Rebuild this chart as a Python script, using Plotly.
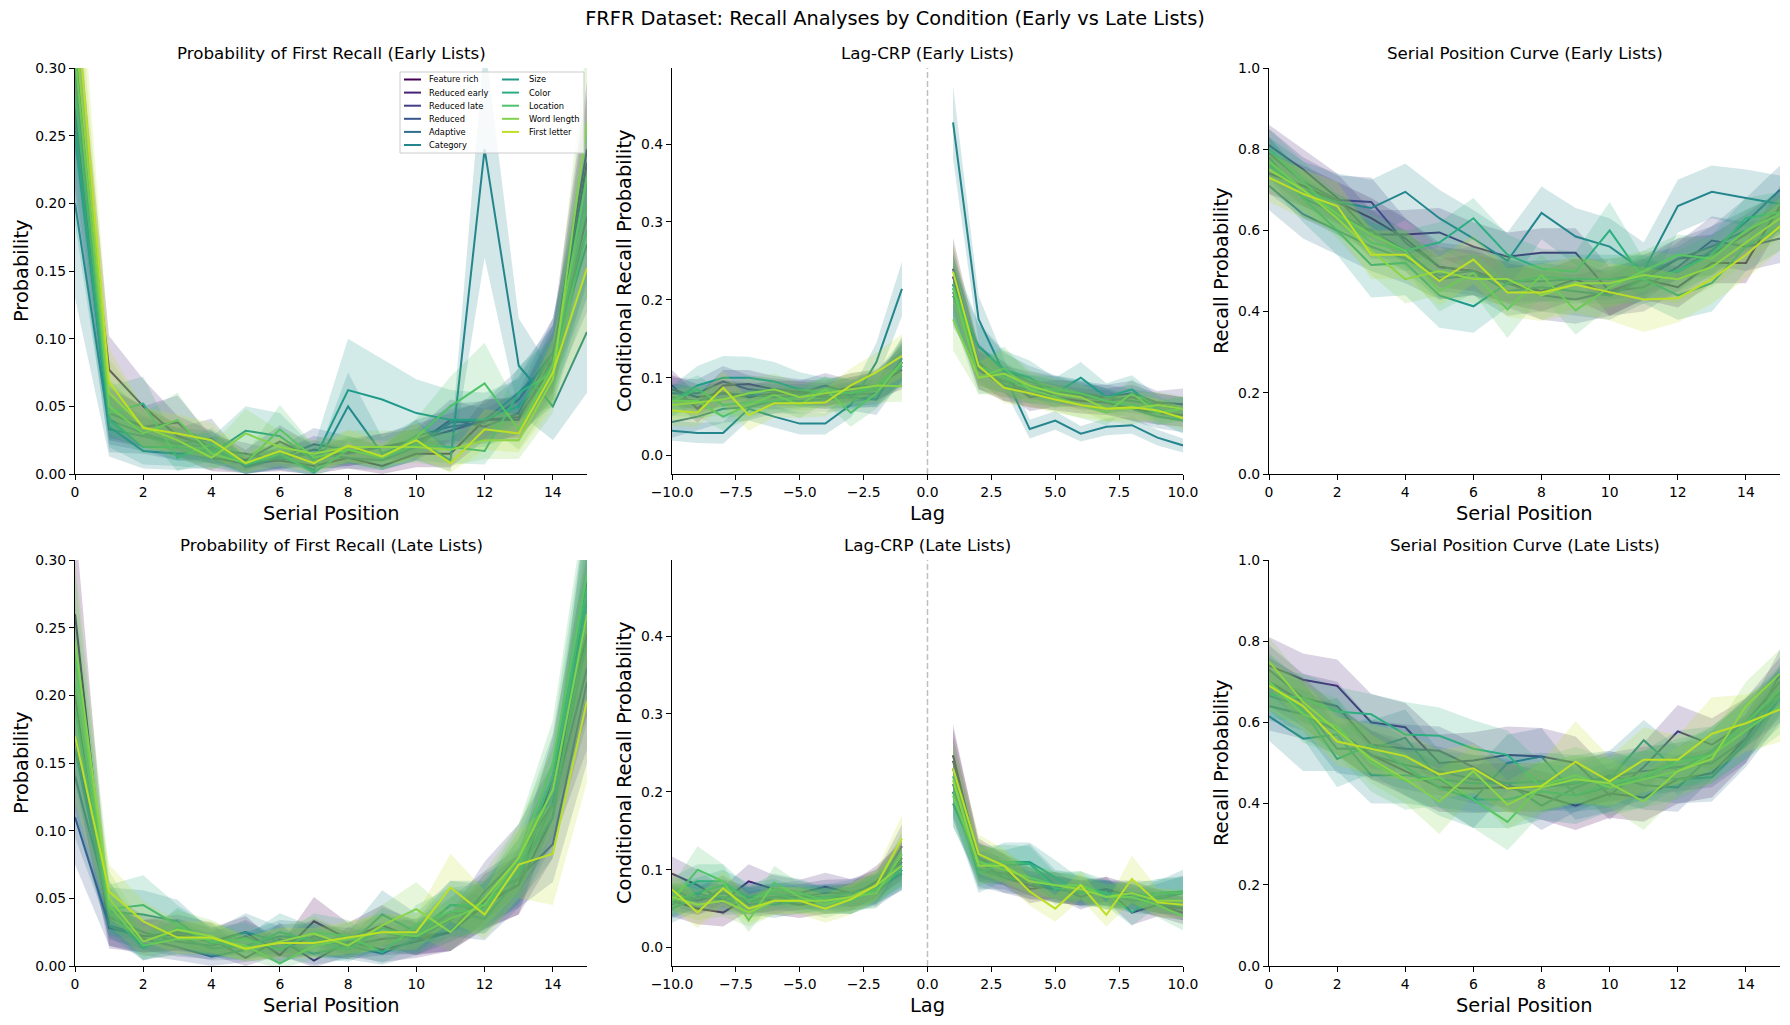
import plotly.graph_objects as go

W, H = 1790, 1025
FONT = "DejaVu Sans"

conditions = ["Feature rich", "Reduced early", "Reduced late", "Reduced", "Adaptive",
              "Category", "Size", "Color", "Location", "Word length", "First letter"]
colors = ["#440154", "#482173", "#433e85", "#39568c", "#2e6e8e", "#25858e",
          "#1f9a8a", "#2cae80", "#4ec36b", "#81d34d", "#bddf26"]

serial_positions = list(range(16))
lags = [-10, -9, -8, -7, -6, -5, -4, -3, -2, -1, 1, 2, 3, 4, 5, 6, 7, 8, 9, 10]

# ---------------- Probability of First Recall (Early Lists) ----------------
pfr_early = {
    "Feature rich":  [0.27, 0.045, 0.035, 0.025, 0.012, 0.008, 0.010, 0.006, 0.012, 0.006, 0.015, 0.015, 0.040, 0.042, 0.080, 0.230],
    "Reduced early": [0.30, 0.077, 0.050, 0.028, 0.020, 0.010, 0.024, 0.012, 0.016, 0.020, 0.025, 0.032, 0.040, 0.040, 0.085, 0.240],
    "Reduced late":  [0.32, 0.045, 0.035, 0.038, 0.018, 0.015, 0.010, 0.018, 0.015, 0.020, 0.022, 0.040, 0.035, 0.045, 0.090, 0.190],
    "Reduced":       [0.30, 0.040, 0.030, 0.022, 0.026, 0.005, 0.012, 0.022, 0.018, 0.012, 0.028, 0.035, 0.038, 0.055, 0.090, 0.180],
    "Adaptive":      [0.26, 0.033, 0.028, 0.022, 0.020, 0.006, 0.012, 0.015, 0.012, 0.010, 0.020, 0.038, 0.040, 0.060, 0.085, 0.170],
    "Category":      [0.20, 0.035, 0.017, 0.015, 0.018, 0.007, 0.013, 0.003, 0.050, 0.015, 0.025, 0.010, 0.240, 0.080, 0.050, 0.105],
    "Size":          [0.25, 0.040, 0.020, 0.020, 0.015, 0.032, 0.028, 0.010, 0.062, 0.055, 0.045, 0.040, 0.040, 0.050, 0.080, 0.200],
    "Color":         [0.28, 0.045, 0.052, 0.012, 0.022, 0.007, 0.015, 0.001, 0.018, 0.012, 0.022, 0.020, 0.017, 0.060, 0.075, 0.180],
    "Location":      [0.31, 0.050, 0.030, 0.040, 0.015, 0.008, 0.033, 0.012, 0.018, 0.012, 0.027, 0.050, 0.067, 0.033, 0.080, 0.220],
    "Word length":   [0.33, 0.060, 0.035, 0.025, 0.012, 0.030, 0.020, 0.015, 0.020, 0.020, 0.020, 0.018, 0.025, 0.025, 0.070, 0.260],
    "First letter":  [0.36, 0.068, 0.034, 0.030, 0.025, 0.008, 0.017, 0.008, 0.021, 0.013, 0.025, 0.008, 0.033, 0.030, 0.075, 0.152],
}
pfr_early_ci = {
    "Feature rich":  [0.060, 0.020, 0.015, 0.012, 0.010, 0.007, 0.008, 0.006, 0.008, 0.006, 0.010, 0.010, 0.015, 0.015, 0.025, 0.050],
    "Reduced early": [0.060, 0.025, 0.020, 0.015, 0.012, 0.008, 0.012, 0.009, 0.010, 0.010, 0.012, 0.013, 0.015, 0.016, 0.025, 0.050],
    "Reduced late":  [0.060, 0.018, 0.015, 0.020, 0.010, 0.008, 0.007, 0.010, 0.009, 0.010, 0.011, 0.015, 0.013, 0.016, 0.025, 0.050],
    "Reduced":       [0.060, 0.018, 0.013, 0.012, 0.015, 0.005, 0.008, 0.012, 0.010, 0.008, 0.012, 0.013, 0.014, 0.017, 0.025, 0.050],
    "Adaptive":      [0.060, 0.017, 0.013, 0.012, 0.012, 0.006, 0.008, 0.010, 0.008, 0.007, 0.010, 0.014, 0.014, 0.018, 0.025, 0.050],
    "Category":      [0.070, 0.022, 0.013, 0.012, 0.013, 0.007, 0.010, 0.004, 0.025, 0.012, 0.015, 0.008, 0.080, 0.035, 0.025, 0.045],
    "Size":          [0.065, 0.020, 0.013, 0.014, 0.012, 0.018, 0.017, 0.010, 0.038, 0.030, 0.025, 0.022, 0.020, 0.020, 0.030, 0.055],
    "Color":         [0.060, 0.020, 0.020, 0.010, 0.012, 0.007, 0.010, 0.003, 0.010, 0.009, 0.012, 0.012, 0.010, 0.020, 0.025, 0.050],
    "Location":      [0.060, 0.020, 0.015, 0.020, 0.010, 0.007, 0.018, 0.009, 0.010, 0.009, 0.014, 0.022, 0.030, 0.015, 0.025, 0.050],
    "Word length":   [0.070, 0.025, 0.015, 0.013, 0.009, 0.018, 0.012, 0.010, 0.012, 0.012, 0.012, 0.012, 0.014, 0.014, 0.025, 0.060],
    "First letter":  [0.070, 0.025, 0.015, 0.014, 0.013, 0.007, 0.011, 0.007, 0.012, 0.009, 0.013, 0.007, 0.015, 0.014, 0.025, 0.050],
}

# ---------------- Lag-CRP (Early Lists) ----------------
crp_early = {
    "Feature rich":  [0.085, 0.075, 0.080, 0.075, 0.080, 0.080, 0.078, 0.085, 0.090, 0.110, 0.230, 0.110, 0.090, 0.080, 0.075, 0.070, 0.068, 0.060, 0.055, 0.052],
    "Reduced early": [0.090, 0.060, 0.090, 0.092, 0.085, 0.082, 0.080, 0.088, 0.090, 0.115, 0.240, 0.115, 0.100, 0.075, 0.080, 0.078, 0.070, 0.075, 0.065, 0.060],
    "Reduced late":  [0.080, 0.080, 0.095, 0.085, 0.082, 0.080, 0.090, 0.080, 0.085, 0.120, 0.220, 0.110, 0.095, 0.090, 0.085, 0.075, 0.075, 0.080, 0.068, 0.066],
    "Reduced":       [0.075, 0.070, 0.080, 0.078, 0.075, 0.077, 0.075, 0.078, 0.080, 0.120, 0.210, 0.120, 0.090, 0.085, 0.080, 0.080, 0.075, 0.070, 0.065, 0.060],
    "Adaptive":      [0.043, 0.050, 0.060, 0.062, 0.070, 0.070, 0.072, 0.075, 0.072, 0.125, 0.205, 0.140, 0.110, 0.095, 0.085, 0.080, 0.070, 0.060, 0.050, 0.045],
    "Category":      [0.032, 0.029, 0.029, 0.060, 0.050, 0.041, 0.041, 0.065, 0.120, 0.214, 0.428, 0.175, 0.105, 0.034, 0.045, 0.028, 0.037, 0.039, 0.023, 0.013],
    "Size":          [0.070, 0.090, 0.100, 0.100, 0.095, 0.085, 0.080, 0.080, 0.085, 0.120, 0.215, 0.140, 0.110, 0.100, 0.080, 0.100, 0.075, 0.085, 0.060, 0.045],
    "Color":         [0.070, 0.085, 0.065, 0.068, 0.070, 0.075, 0.085, 0.080, 0.090, 0.115, 0.220, 0.115, 0.100, 0.085, 0.085, 0.080, 0.070, 0.065, 0.055, 0.060],
    "Location":      [0.070, 0.070, 0.050, 0.065, 0.078, 0.065, 0.085, 0.055, 0.080, 0.120, 0.215, 0.100, 0.112, 0.085, 0.075, 0.065, 0.055, 0.080, 0.055, 0.060],
    "Word length":   [0.065, 0.068, 0.072, 0.080, 0.085, 0.075, 0.080, 0.085, 0.090, 0.089, 0.175, 0.100, 0.105, 0.090, 0.080, 0.075, 0.060, 0.060, 0.065, 0.060],
    "First letter":  [0.058, 0.055, 0.087, 0.052, 0.067, 0.067, 0.068, 0.090, 0.107, 0.128, 0.236, 0.115, 0.087, 0.080, 0.072, 0.065, 0.060, 0.062, 0.058, 0.048],
}
crp_early_ci = {
    "Feature rich":  [0.018, 0.017, 0.017, 0.016, 0.016, 0.015, 0.015, 0.016, 0.018, 0.025, 0.040, 0.025, 0.020, 0.018, 0.017, 0.016, 0.016, 0.015, 0.015, 0.015],
    "Reduced early": [0.020, 0.018, 0.020, 0.018, 0.017, 0.016, 0.016, 0.018, 0.020, 0.025, 0.040, 0.025, 0.020, 0.018, 0.017, 0.016, 0.016, 0.016, 0.015, 0.015],
    "Reduced late":  [0.020, 0.018, 0.020, 0.018, 0.017, 0.016, 0.016, 0.017, 0.019, 0.025, 0.040, 0.025, 0.020, 0.018, 0.017, 0.016, 0.016, 0.016, 0.015, 0.020],
    "Reduced":       [0.018, 0.017, 0.017, 0.016, 0.016, 0.015, 0.015, 0.016, 0.018, 0.025, 0.040, 0.025, 0.020, 0.018, 0.017, 0.016, 0.016, 0.015, 0.015, 0.015],
    "Adaptive":      [0.020, 0.018, 0.018, 0.017, 0.016, 0.016, 0.016, 0.017, 0.020, 0.028, 0.040, 0.028, 0.022, 0.020, 0.018, 0.017, 0.016, 0.016, 0.015, 0.015],
    "Category":      [0.013, 0.013, 0.014, 0.015, 0.014, 0.014, 0.014, 0.016, 0.025, 0.035, 0.047, 0.030, 0.020, 0.012, 0.012, 0.010, 0.011, 0.011, 0.010, 0.009],
    "Size":          [0.020, 0.025, 0.028, 0.027, 0.025, 0.022, 0.020, 0.020, 0.022, 0.030, 0.040, 0.030, 0.025, 0.022, 0.020, 0.020, 0.018, 0.018, 0.017, 0.017],
    "Color":         [0.018, 0.018, 0.017, 0.016, 0.016, 0.015, 0.016, 0.017, 0.018, 0.025, 0.040, 0.025, 0.020, 0.018, 0.017, 0.016, 0.016, 0.015, 0.015, 0.015],
    "Location":      [0.020, 0.020, 0.018, 0.018, 0.018, 0.017, 0.018, 0.018, 0.020, 0.028, 0.040, 0.022, 0.028, 0.020, 0.018, 0.017, 0.016, 0.018, 0.016, 0.016],
    "Word length":   [0.020, 0.020, 0.020, 0.020, 0.020, 0.018, 0.018, 0.020, 0.022, 0.020, 0.040, 0.020, 0.030, 0.020, 0.018, 0.017, 0.016, 0.020, 0.017, 0.016],
    "First letter":  [0.020, 0.018, 0.022, 0.020, 0.018, 0.018, 0.018, 0.022, 0.025, 0.028, 0.040, 0.025, 0.020, 0.018, 0.017, 0.016, 0.016, 0.016, 0.015, 0.015],
}

# ---------------- Serial Position Curve (Early Lists) ----------------
spc_early = {
    "Feature rich":  [0.74, 0.71, 0.67, 0.63, 0.58, 0.51, 0.50, 0.47, 0.45, 0.48, 0.44, 0.48, 0.46, 0.52, 0.52, 0.66],
    "Reduced early": [0.81, 0.75, 0.68, 0.59, 0.59, 0.595, 0.56, 0.535, 0.545, 0.545, 0.45, 0.48, 0.53, 0.54, 0.59, 0.65],
    "Reduced late":  [0.79, 0.72, 0.675, 0.67, 0.57, 0.51, 0.50, 0.47, 0.44, 0.43, 0.45, 0.46, 0.51, 0.575, 0.56, 0.58],
    "Reduced":       [0.78, 0.68, 0.64, 0.60, 0.55, 0.48, 0.49, 0.475, 0.475, 0.48, 0.48, 0.49, 0.53, 0.56, 0.60, 0.64],
    "Adaptive":      [0.71, 0.64, 0.60, 0.56, 0.53, 0.49, 0.50, 0.45, 0.46, 0.45, 0.44, 0.48, 0.50, 0.55, 0.62, 0.70],
    "Category":      [0.76, 0.70, 0.67, 0.655, 0.695, 0.63, 0.58, 0.525, 0.643, 0.585, 0.56, 0.50, 0.66, 0.695, 0.68, 0.665],
    "Size":          [0.77, 0.68, 0.60, 0.515, 0.52, 0.44, 0.413, 0.47, 0.485, 0.48, 0.48, 0.48, 0.44, 0.47, 0.56, 0.61],
    "Color":         [0.80, 0.72, 0.64, 0.57, 0.55, 0.57, 0.63, 0.54, 0.505, 0.498, 0.60, 0.48, 0.50, 0.54, 0.63, 0.645],
    "Location":      [0.77, 0.70, 0.64, 0.59, 0.55, 0.45, 0.495, 0.405, 0.49, 0.403, 0.46, 0.50, 0.54, 0.53, 0.60, 0.64],
    "Word length":   [0.75, 0.70, 0.63, 0.55, 0.48, 0.50, 0.48, 0.48, 0.44, 0.47, 0.47, 0.49, 0.48, 0.51, 0.57, 0.63],
    "First letter":  [0.73, 0.69, 0.66, 0.54, 0.54, 0.475, 0.528, 0.447, 0.447, 0.466, 0.448, 0.43, 0.433, 0.48, 0.54, 0.61],
}
spc_early_ci = {
    "Feature rich":  [0.05, 0.05, 0.05, 0.05, 0.05, 0.05, 0.05, 0.05, 0.05, 0.05, 0.05, 0.05, 0.05, 0.05, 0.05, 0.05],
    "Reduced early": [0.05, 0.05, 0.06, 0.06, 0.06, 0.06, 0.06, 0.06, 0.06, 0.06, 0.06, 0.05, 0.05, 0.05, 0.05, 0.05],
    "Reduced late":  [0.06, 0.06, 0.06, 0.06, 0.06, 0.06, 0.06, 0.06, 0.06, 0.06, 0.06, 0.06, 0.06, 0.06, 0.06, 0.06],
    "Reduced":       [0.05, 0.05, 0.05, 0.05, 0.05, 0.05, 0.05, 0.05, 0.05, 0.05, 0.05, 0.05, 0.05, 0.05, 0.05, 0.05],
    "Adaptive":      [0.06, 0.06, 0.06, 0.06, 0.06, 0.06, 0.06, 0.06, 0.06, 0.06, 0.06, 0.06, 0.06, 0.06, 0.06, 0.06],
    "Category":      [0.07, 0.07, 0.07, 0.07, 0.07, 0.07, 0.07, 0.07, 0.065, 0.07, 0.07, 0.07, 0.065, 0.065, 0.07, 0.07],
    "Size":          [0.06, 0.06, 0.06, 0.08, 0.08, 0.08, 0.065, 0.06, 0.06, 0.06, 0.06, 0.06, 0.06, 0.07, 0.06, 0.06],
    "Color":         [0.05, 0.05, 0.05, 0.05, 0.05, 0.05, 0.05, 0.05, 0.05, 0.05, 0.07, 0.05, 0.05, 0.05, 0.05, 0.05],
    "Location":      [0.05, 0.05, 0.05, 0.05, 0.05, 0.05, 0.05, 0.07, 0.05, 0.06, 0.05, 0.05, 0.05, 0.05, 0.05, 0.05],
    "Word length":   [0.05, 0.05, 0.05, 0.06, 0.06, 0.06, 0.06, 0.06, 0.06, 0.06, 0.06, 0.06, 0.06, 0.05, 0.05, 0.05],
    "First letter":  [0.06, 0.06, 0.06, 0.06, 0.06, 0.06, 0.06, 0.06, 0.07, 0.07, 0.07, 0.08, 0.06, 0.06, 0.06, 0.06],
}

# ---------------- Probability of First Recall (Late Lists) ----------------
pfr_late = {
    "Feature rich":  [0.26, 0.030, 0.022, 0.023, 0.018, 0.025, 0.008, 0.033, 0.020, 0.030, 0.020, 0.025, 0.045, 0.060, 0.140, 0.245],
    "Reduced early": [0.20, 0.028, 0.022, 0.025, 0.020, 0.006, 0.020, 0.004, 0.018, 0.012, 0.018, 0.025, 0.048, 0.060, 0.110, 0.283],
    "Reduced late":  [0.17, 0.036, 0.025, 0.018, 0.015, 0.022, 0.012, 0.022, 0.015, 0.020, 0.022, 0.025, 0.055, 0.080, 0.120, 0.220],
    "Reduced":       [0.11, 0.030, 0.020, 0.014, 0.007, 0.012, 0.019, 0.019, 0.017, 0.025, 0.020, 0.034, 0.050, 0.065, 0.090, 0.210],
    "Adaptive":      [0.14, 0.045, 0.014, 0.022, 0.013, 0.015, 0.022, 0.020, 0.015, 0.009, 0.020, 0.040, 0.035, 0.065, 0.120, 0.240],
    "Category":      [0.16, 0.040, 0.038, 0.033, 0.016, 0.025, 0.018, 0.009, 0.015, 0.038, 0.025, 0.045, 0.042, 0.070, 0.110, 0.260],
    "Size":          [0.19, 0.040, 0.013, 0.028, 0.018, 0.013, 0.025, 0.018, 0.012, 0.028, 0.022, 0.045, 0.045, 0.070, 0.130, 0.270],
    "Color":         [0.21, 0.042, 0.045, 0.030, 0.018, 0.020, 0.012, 0.025, 0.022, 0.010, 0.030, 0.040, 0.042, 0.075, 0.140, 0.280],
    "Location":      [0.23, 0.045, 0.015, 0.020, 0.020, 0.015, 0.002, 0.015, 0.020, 0.025, 0.022, 0.035, 0.045, 0.080, 0.150, 0.290],
    "Word length":   [0.24, 0.050, 0.018, 0.027, 0.022, 0.012, 0.018, 0.024, 0.015, 0.030, 0.042, 0.025, 0.050, 0.080, 0.130, 0.260],
    "First letter":  [0.17, 0.055, 0.033, 0.021, 0.021, 0.013, 0.017, 0.017, 0.021, 0.025, 0.025, 0.058, 0.038, 0.075, 0.083, 0.196],
}
pfr_late_ci = {
    "Feature rich":  [0.070, 0.015, 0.012, 0.012, 0.010, 0.012, 0.007, 0.018, 0.012, 0.015, 0.012, 0.014, 0.018, 0.022, 0.030, 0.060],
    "Reduced early": [0.060, 0.015, 0.012, 0.013, 0.012, 0.006, 0.012, 0.005, 0.011, 0.009, 0.012, 0.014, 0.020, 0.022, 0.030, 0.060],
    "Reduced late":  [0.055, 0.016, 0.013, 0.011, 0.010, 0.012, 0.009, 0.013, 0.010, 0.012, 0.013, 0.014, 0.022, 0.025, 0.030, 0.060],
    "Reduced":       [0.035, 0.015, 0.012, 0.010, 0.007, 0.009, 0.012, 0.012, 0.011, 0.014, 0.012, 0.016, 0.020, 0.022, 0.028, 0.060],
    "Adaptive":      [0.045, 0.018, 0.010, 0.013, 0.009, 0.010, 0.012, 0.012, 0.010, 0.008, 0.012, 0.018, 0.016, 0.022, 0.030, 0.060],
    "Category":      [0.050, 0.018, 0.018, 0.016, 0.010, 0.014, 0.011, 0.008, 0.010, 0.018, 0.014, 0.018, 0.018, 0.024, 0.030, 0.060],
    "Size":          [0.055, 0.018, 0.009, 0.015, 0.011, 0.009, 0.014, 0.011, 0.009, 0.015, 0.012, 0.018, 0.018, 0.024, 0.032, 0.060],
    "Color":         [0.060, 0.018, 0.022, 0.015, 0.011, 0.012, 0.009, 0.014, 0.012, 0.008, 0.015, 0.018, 0.018, 0.025, 0.032, 0.060],
    "Location":      [0.060, 0.018, 0.010, 0.012, 0.012, 0.010, 0.004, 0.010, 0.012, 0.014, 0.013, 0.016, 0.018, 0.025, 0.032, 0.060],
    "Word length":   [0.060, 0.020, 0.011, 0.014, 0.012, 0.009, 0.011, 0.013, 0.010, 0.015, 0.020, 0.014, 0.020, 0.025, 0.032, 0.060],
    "First letter":  [0.050, 0.020, 0.015, 0.012, 0.012, 0.009, 0.011, 0.011, 0.012, 0.013, 0.013, 0.025, 0.018, 0.025, 0.038, 0.060],
}

# ---------------- Lag-CRP (Late Lists) ----------------
crp_late = {
    "Feature rich":  [0.060, 0.050, 0.045, 0.065, 0.060, 0.055, 0.060, 0.065, 0.085, 0.110, 0.247, 0.110, 0.100, 0.085, 0.075, 0.070, 0.075, 0.065, 0.055, 0.050],
    "Reduced early": [0.095, 0.080, 0.060, 0.085, 0.075, 0.070, 0.078, 0.070, 0.080, 0.115, 0.240, 0.115, 0.100, 0.075, 0.080, 0.065, 0.075, 0.045, 0.055, 0.045],
    "Reduced late":  [0.075, 0.060, 0.070, 0.060, 0.065, 0.065, 0.070, 0.070, 0.075, 0.130, 0.230, 0.110, 0.090, 0.080, 0.075, 0.070, 0.070, 0.065, 0.060, 0.050],
    "Reduced":       [0.065, 0.060, 0.075, 0.055, 0.060, 0.065, 0.065, 0.065, 0.070, 0.100, 0.210, 0.100, 0.095, 0.080, 0.080, 0.075, 0.070, 0.070, 0.060, 0.055],
    "Adaptive":      [0.055, 0.070, 0.060, 0.060, 0.065, 0.070, 0.060, 0.060, 0.075, 0.095, 0.200, 0.100, 0.090, 0.085, 0.075, 0.070, 0.070, 0.060, 0.062, 0.070],
    "Category":      [0.050, 0.065, 0.065, 0.060, 0.055, 0.060, 0.065, 0.070, 0.075, 0.100, 0.185, 0.110, 0.105, 0.108, 0.080, 0.075, 0.065, 0.070, 0.065, 0.070],
    "Size":          [0.060, 0.070, 0.080, 0.065, 0.070, 0.060, 0.065, 0.060, 0.080, 0.105, 0.200, 0.095, 0.110, 0.110, 0.090, 0.070, 0.070, 0.065, 0.070, 0.072],
    "Color":         [0.070, 0.085, 0.085, 0.060, 0.075, 0.070, 0.060, 0.060, 0.075, 0.100, 0.220, 0.105, 0.110, 0.108, 0.075, 0.080, 0.070, 0.045, 0.070, 0.070],
    "Location":      [0.060, 0.100, 0.085, 0.035, 0.083, 0.065, 0.055, 0.065, 0.070, 0.120, 0.195, 0.110, 0.100, 0.090, 0.080, 0.080, 0.065, 0.065, 0.055, 0.040],
    "Word length":   [0.065, 0.055, 0.060, 0.045, 0.060, 0.060, 0.060, 0.065, 0.080, 0.105, 0.215, 0.105, 0.105, 0.085, 0.080, 0.075, 0.065, 0.070, 0.060, 0.060],
    "First letter":  [0.075, 0.045, 0.076, 0.050, 0.060, 0.060, 0.050, 0.062, 0.080, 0.140, 0.230, 0.120, 0.105, 0.072, 0.050, 0.080, 0.042, 0.088, 0.058, 0.055],
}
crp_late_ci = {
    "Feature rich":  [0.020, 0.020, 0.018, 0.018, 0.018, 0.017, 0.017, 0.018, 0.020, 0.025, 0.040, 0.025, 0.020, 0.018, 0.017, 0.016, 0.016, 0.016, 0.015, 0.015],
    "Reduced early": [0.022, 0.020, 0.018, 0.022, 0.018, 0.017, 0.018, 0.018, 0.020, 0.025, 0.040, 0.025, 0.020, 0.018, 0.017, 0.016, 0.016, 0.016, 0.015, 0.015],
    "Reduced late":  [0.020, 0.018, 0.018, 0.018, 0.018, 0.017, 0.017, 0.018, 0.020, 0.028, 0.040, 0.025, 0.020, 0.018, 0.017, 0.016, 0.016, 0.016, 0.015, 0.015],
    "Reduced":       [0.018, 0.018, 0.018, 0.017, 0.017, 0.016, 0.016, 0.017, 0.018, 0.025, 0.040, 0.025, 0.020, 0.018, 0.017, 0.016, 0.016, 0.016, 0.015, 0.015],
    "Adaptive":      [0.018, 0.018, 0.018, 0.017, 0.017, 0.016, 0.016, 0.017, 0.018, 0.022, 0.035, 0.022, 0.020, 0.018, 0.017, 0.016, 0.016, 0.016, 0.020, 0.022],
    "Category":      [0.018, 0.018, 0.018, 0.017, 0.017, 0.016, 0.016, 0.017, 0.018, 0.022, 0.030, 0.022, 0.020, 0.025, 0.020, 0.018, 0.016, 0.016, 0.020, 0.030],
    "Size":          [0.020, 0.020, 0.020, 0.018, 0.018, 0.017, 0.017, 0.017, 0.020, 0.025, 0.035, 0.025, 0.025, 0.025, 0.022, 0.018, 0.017, 0.017, 0.018, 0.020],
    "Color":         [0.020, 0.022, 0.022, 0.018, 0.020, 0.018, 0.017, 0.017, 0.020, 0.025, 0.040, 0.025, 0.022, 0.022, 0.020, 0.018, 0.017, 0.017, 0.018, 0.020],
    "Location":      [0.020, 0.030, 0.022, 0.015, 0.022, 0.018, 0.017, 0.017, 0.020, 0.028, 0.040, 0.025, 0.020, 0.018, 0.018, 0.018, 0.016, 0.016, 0.016, 0.018],
    "Word length":   [0.020, 0.020, 0.020, 0.018, 0.018, 0.017, 0.017, 0.018, 0.020, 0.025, 0.040, 0.025, 0.020, 0.018, 0.017, 0.016, 0.016, 0.016, 0.015, 0.015],
    "First letter":  [0.025, 0.020, 0.022, 0.018, 0.018, 0.017, 0.018, 0.020, 0.020, 0.030, 0.040, 0.025, 0.022, 0.018, 0.017, 0.018, 0.015, 0.030, 0.018, 0.018],
}

# ---------------- Serial Position Curve (Late Lists) ----------------
spc_late = {
    "Feature rich":  [0.70, 0.65, 0.58, 0.52, 0.48, 0.44, 0.437, 0.44, 0.42, 0.395, 0.425, 0.415, 0.46, 0.475, 0.56, 0.68],
    "Reduced early": [0.74, 0.705, 0.69, 0.60, 0.588, 0.50, 0.506, 0.52, 0.516, 0.50, 0.42, 0.49, 0.578, 0.545, 0.60, 0.70],
    "Reduced late":  [0.73, 0.66, 0.64, 0.545, 0.535, 0.53, 0.49, 0.44, 0.44, 0.45, 0.465, 0.48, 0.49, 0.50, 0.56, 0.72],
    "Reduced":       [0.64, 0.62, 0.58, 0.52, 0.495, 0.48, 0.46, 0.45, 0.395, 0.44, 0.47, 0.445, 0.44, 0.52, 0.60, 0.66],
    "Adaptive":      [0.665, 0.64, 0.535, 0.535, 0.562, 0.46, 0.41, 0.50, 0.516, 0.42, 0.44, 0.47, 0.46, 0.465, 0.55, 0.66],
    "Category":      [0.615, 0.56, 0.57, 0.47, 0.47, 0.46, 0.45, 0.45, 0.455, 0.45, 0.46, 0.556, 0.48, 0.53, 0.60, 0.67],
    "Size":          [0.70, 0.63, 0.51, 0.545, 0.49, 0.44, 0.41, 0.41, 0.43, 0.42, 0.45, 0.46, 0.51, 0.52, 0.58, 0.66],
    "Color":         [0.67, 0.66, 0.627, 0.62, 0.57, 0.567, 0.535, 0.52, 0.44, 0.46, 0.45, 0.47, 0.50, 0.52, 0.60, 0.68],
    "Location":      [0.70, 0.62, 0.59, 0.50, 0.455, 0.465, 0.41, 0.355, 0.445, 0.47, 0.44, 0.46, 0.48, 0.52, 0.58, 0.64],
    "Word length":   [0.75, 0.65, 0.58, 0.51, 0.46, 0.405, 0.48, 0.397, 0.44, 0.46, 0.45, 0.405, 0.48, 0.51, 0.64, 0.72],
    "First letter":  [0.69, 0.64, 0.553, 0.535, 0.517, 0.472, 0.487, 0.437, 0.443, 0.503, 0.455, 0.508, 0.508, 0.572, 0.598, 0.632],
}
spc_late_ci = {
    "Feature rich":  [0.06, 0.06, 0.06, 0.06, 0.06, 0.06, 0.06, 0.06, 0.06, 0.06, 0.06, 0.06, 0.06, 0.06, 0.06, 0.06],
    "Reduced early": [0.07, 0.065, 0.065, 0.07, 0.06, 0.07, 0.07, 0.07, 0.07, 0.065, 0.06, 0.06, 0.065, 0.065, 0.06, 0.06],
    "Reduced late":  [0.06, 0.06, 0.06, 0.06, 0.06, 0.06, 0.06, 0.06, 0.06, 0.06, 0.06, 0.06, 0.06, 0.06, 0.06, 0.06],
    "Reduced":       [0.06, 0.06, 0.06, 0.06, 0.06, 0.06, 0.06, 0.06, 0.06, 0.06, 0.06, 0.06, 0.06, 0.06, 0.06, 0.06],
    "Adaptive":      [0.06, 0.06, 0.06, 0.07, 0.07, 0.07, 0.07, 0.07, 0.07, 0.06, 0.06, 0.06, 0.06, 0.06, 0.06, 0.06],
    "Category":      [0.06, 0.08, 0.09, 0.07, 0.07, 0.07, 0.07, 0.07, 0.07, 0.07, 0.07, 0.05, 0.06, 0.06, 0.06, 0.06],
    "Size":          [0.07, 0.07, 0.07, 0.07, 0.07, 0.07, 0.07, 0.07, 0.07, 0.07, 0.07, 0.07, 0.07, 0.07, 0.07, 0.07],
    "Color":         [0.06, 0.06, 0.06, 0.05, 0.08, 0.07, 0.07, 0.06, 0.06, 0.06, 0.06, 0.06, 0.06, 0.06, 0.06, 0.06],
    "Location":      [0.07, 0.07, 0.07, 0.07, 0.07, 0.07, 0.07, 0.07, 0.07, 0.07, 0.07, 0.07, 0.07, 0.07, 0.07, 0.07],
    "Word length":   [0.06, 0.06, 0.06, 0.06, 0.06, 0.08, 0.06, 0.06, 0.06, 0.06, 0.06, 0.07, 0.06, 0.06, 0.06, 0.06],
    "First letter":  [0.06, 0.06, 0.06, 0.06, 0.06, 0.06, 0.06, 0.06, 0.06, 0.10, 0.06, 0.08, 0.06, 0.09, 0.07, 0.08],
}

pfr_yticks = [0.0, 0.05, 0.10, 0.15, 0.20, 0.25, 0.30]
pfr_ytext = ["0.00", "0.05", "0.10", "0.15", "0.20", "0.25", "0.30"]
crp_yticks = [0.0, 0.1, 0.2, 0.3, 0.4]
crp_ytext = ["0.0", "0.1", "0.2", "0.3", "0.4"]
spc_yticks = [0.0, 0.2, 0.4, 0.6, 0.8, 1.0]
spc_ytext = ["0.0", "0.2", "0.4", "0.6", "0.8", "1.0"]
sp_xticks = [0, 2, 4, 6, 8, 10, 12, 14]
lag_xticks = [-10, -7.5, -5, -2.5, 0, 2.5, 5, 7.5, 10]
lag_xtext = ["\u221210.0", "\u22127.5", "\u22125.0", "\u22122.5", "0.0", "2.5", "5.0", "7.5", "10.0"]

# ---------------- layout geometry (pixels) ----------------
cols_px = [(75, 587), (672, 1183), (1269, 1780)]
rows_px = [(68, 474), (560, 966)]


def xd(a, b):
    return [a / W, b / W]


def yd(top, bot):
    return [1 - bot / H, 1 - top / H]


def rgba(hexc, a):
    h = hexc.lstrip("#")
    return "rgba(%d,%d,%d,%.2f)" % (int(h[0:2], 16), int(h[2:4], 16), int(h[4:6], 16), a)


fig = go.Figure()


def add_series(ax, x, means, cis):
    xa = "x" if ax == 1 else "x%d" % ax
    ya = "y" if ax == 1 else "y%d" % ax
    for i, cond in enumerate(conditions):
        m = means[cond]
        e = cis[cond]
        segs = [(0, 10), (10, 20)] if x is lags else [(0, len(x))]
        for a, b in segs:
            xs = x[a:b]
            ms = m[a:b]
            lo = [mv - ev for mv, ev in zip(ms, e[a:b])]
            hi = [mv + ev for mv, ev in zip(ms, e[a:b])]
            fig.add_trace(go.Scatter(
                x=xs, y=ms, mode="lines", xaxis=xa, yaxis=ya,
                line=dict(color=colors[i], width=2),
                name=cond, showlegend=False, hoverinfo="skip"))
            fig.add_trace(go.Scatter(
                x=xs + xs[::-1], y=hi + lo[::-1], mode="lines", fill="toself",
                xaxis=xa, yaxis=ya, line=dict(width=0, color=rgba(colors[i], 0)),
                fillcolor=rgba(colors[i], 0.2), showlegend=False, hoverinfo="skip"))


add_series(1, serial_positions, pfr_early, pfr_early_ci)
add_series(2, lags, crp_early, crp_early_ci)
add_series(3, serial_positions, spc_early, spc_early_ci)
add_series(4, serial_positions, pfr_late, pfr_late_ci)
add_series(5, lags, crp_late, crp_late_ci)
add_series(6, serial_positions, spc_late, spc_late_ci)

axis_common = dict(showline=True, linecolor="black", linewidth=1.1, ticks="outside",
                   ticklen=5, tickwidth=1.1, tickcolor="black", showgrid=False,
                   zeroline=False, mirror=False, automargin=False,
                   tickfont=dict(family=FONT, size=13.9, color="black"))

panels = [
    (1, 0, 0, [0, 15], sp_xticks, [str(v) for v in sp_xticks], [0, 0.3], pfr_yticks, pfr_ytext),
    (2, 1, 0, [-10, 10], lag_xticks, lag_xtext, [-0.0237, 0.4977], crp_yticks, crp_ytext),
    (3, 2, 0, [0, 15], sp_xticks, [str(v) for v in sp_xticks], [0, 1.0], spc_yticks, spc_ytext),
    (4, 0, 1, [0, 15], sp_xticks, [str(v) for v in sp_xticks], [0, 0.3], pfr_yticks, pfr_ytext),
    (5, 1, 1, [-10, 10], lag_xticks, lag_xtext, [-0.0237, 0.4977], crp_yticks, crp_ytext),
    (6, 2, 1, [0, 15], sp_xticks, [str(v) for v in sp_xticks], [0, 1.0], spc_yticks, spc_ytext),
]
lay = {}
for ax, c, r, xr, xt, xtt, yr, yt, ytt in panels:
    xname = "xaxis" if ax == 1 else "xaxis%d" % ax
    yname = "yaxis" if ax == 1 else "yaxis%d" % ax
    lay[xname] = dict(axis_common, domain=xd(*cols_px[c]), range=xr, tickvals=xt, ticktext=xtt,
                      anchor="y" if ax == 1 else "y%d" % ax)
    lay[yname] = dict(axis_common, domain=yd(*rows_px[r]), range=yr, tickvals=yt, ticktext=ytt,
                      anchor="x" if ax == 1 else "x%d" % ax)
fig.update_layout(**lay)

# dashed vertical reference at lag 0
for ax in (2, 5):
    fig.add_shape(type="line", xref="x%d" % ax, yref="y%d domain" % ax, x0=0, x1=0, y0=0, y1=1,
                  line=dict(color="rgba(128,128,128,0.5)", width=1.5, dash="6px,3px"), layer="above")

# annotations: subplot titles, axis labels
subtitles = ["Probability of First Recall (Early Lists)", "Lag-CRP (Early Lists)",
             "Serial Position Curve (Early Lists)", "Probability of First Recall (Late Lists)",
             "Lag-CRP (Late Lists)", "Serial Position Curve (Late Lists)"]
xlabels = ["Serial Position", "Lag", "Serial Position"]
ylabels = ["Probability", "Conditional Recall Probability", "Recall Probability"]
ylabel_x = [21, 624, 1221]
annots = []
for r in range(2):
    top, bot = rows_px[r]
    for c in range(3):
        l, rr = cols_px[c]
        annots.append(dict(text=subtitles[r * 3 + c], x=(l + rr) / 2 / W, y=1 - (top - 15) / H,
                           xref="paper", yref="paper", showarrow=False, xanchor="center",
                           yanchor="middle", font=dict(family=FONT, size=16.7, color="black")))
        annots.append(dict(text=xlabels[c], x=(l + rr) / 2 / W, y=1 - (bot + 39) / H,
                           xref="paper", yref="paper", showarrow=False, xanchor="center",
                           yanchor="middle", font=dict(family=FONT, size=19.4, color="black")))
        annots.append(dict(text=ylabels[c], x=ylabel_x[c] / W, y=1 - (top + bot) / 2 / H,
                           xref="paper", yref="paper", showarrow=False, xanchor="center",
                           yanchor="middle", textangle=-90,
                           font=dict(family=FONT, size=19.4, color="black")))

# legend (two columns, drawn in the top-left panel's upper right corner)
leg_box = (400, 584, 72, 153)
leg_cols = [(404, 421, 427), (502, 519, 527)]
leg_row0, leg_dy = 79.5, 13.1
fig.add_shape(type="rect", xref="paper", yref="paper", x0=leg_box[0] / W, x1=leg_box[1] / W,
              y0=1 - leg_box[3] / H, y1=1 - leg_box[2] / H, line=dict(color="#cccccc", width=1),
              fillcolor="rgba(255,255,255,0.8)", layer="above")
for i, cond in enumerate(conditions):
    col = 0 if i < 6 else 1
    row = i if i < 6 else i - 6
    hx0, hx1, tx = leg_cols[col]
    yy = 1 - (leg_row0 + row * leg_dy) / H
    fig.add_shape(type="line", xref="paper", yref="paper", x0=hx0 / W, x1=hx1 / W, y0=yy, y1=yy,
                  line=dict(color=colors[i], width=2), layer="above")
    annots.append(dict(text=cond, x=tx / W, y=yy, xref="paper", yref="paper", showarrow=False,
                       xanchor="left", yanchor="middle",
                       font=dict(family=FONT, size=8.3, color="black")))

fig.update_layout(
    width=W, height=H,
    margin=dict(l=0, r=0, t=0, b=0),
    paper_bgcolor="white", plot_bgcolor="white",
    font=dict(family=FONT, color="black"),
    title=dict(text="FRFR Dataset: Recall Analyses by Condition (Early vs Late Lists)",
               x=0.5, xanchor="center", y=1 - 18 / H, yanchor="middle",
               font=dict(family=FONT, size=19.4, color="black")),
    annotations=annots,
    showlegend=False,
)

fig.write_html("out.html")
